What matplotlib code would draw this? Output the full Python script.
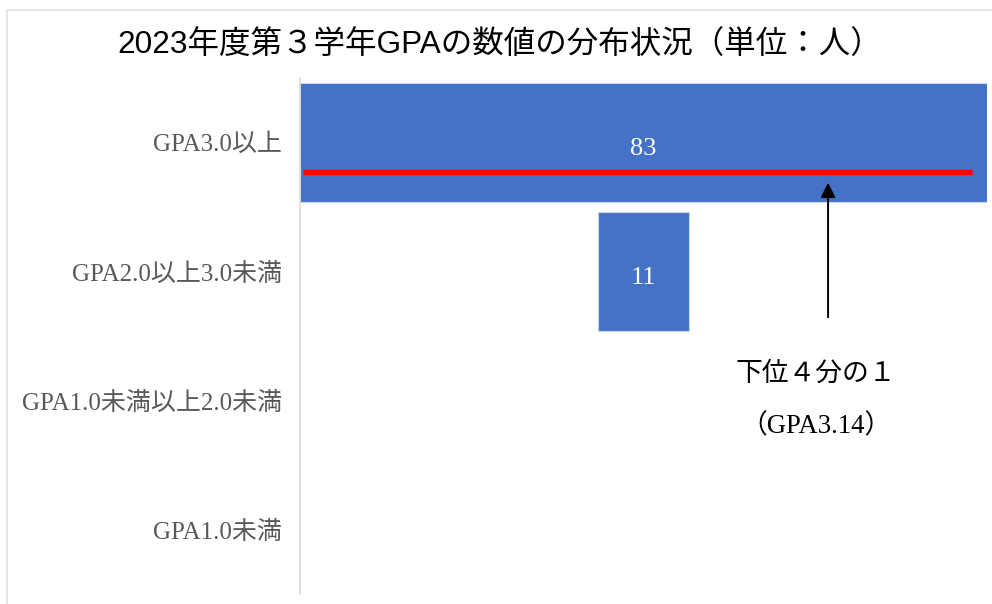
import matplotlib.pyplot as plt
from matplotlib.patches import Rectangle

# data
categories = ['GPA3.0以上', 'GPA2.0以上3.0未満', 'GPA1.0未満以上2.0未満', 'GPA1.0未満']
counts = [83, 11, 0, 0]
title = '2023年度第３学年GPAの数値の分布状況（単位：人）'
note_lines = ['下位４分の１', '（GPA3.14）']

bar_col = '#4472C4'
grid_col = '#d9d9d9'
label_col = '#595959'
serif_jp = ['Liberation Serif', 'Noto Sans CJK JP']
sans_jp = ['Liberation Sans', 'Noto Sans CJK JP']

fig = plt.figure(figsize=(9.92, 6.04), dpi=100)
ax = fig.add_axes([300/992, 1 - 594/604, 687/992, 516/604])

pos = list(range(len(categories)))
lefts = [-c / 2 for c in counts]
ax.barh(pos, counts, left=lefts, height=0.93, color=bar_col,
        edgecolor='#c9d6ee', linewidth=[0.8 if c else 0 for c in counts], zorder=2)

for p, c in zip(pos, counts):
    if c > 0:
        ax.text(0, p + 0.05, str(c), color='white', ha='center', va='center',
                fontsize=19, family=serif_jp, zorder=4)

ax.set_xlim(-41.5, 41.5)
ax.set_ylim(len(categories) - 0.5, -0.5)
ax.set_yticks(pos, categories)
ax.set_xticks([])
ax.tick_params(axis='y', length=0, pad=13, labelsize=18, labelcolor=label_col)
for lab in ax.get_yticklabels():
    lab.set_family(serif_jp)
for s in ['top', 'right', 'bottom']:
    ax.spines[s].set_visible(False)
ax.spines['left'].set_color(grid_col)
ax.spines['left'].set_linewidth(1.2)

# lower quartile marker
ax.plot([-41.1, 39.7], [0.229, 0.229], color='#ff0000', lw=3.8,
        solid_capstyle='butt', zorder=3)
ax.annotate('', xy=(22.3, 0.29), xytext=(22.3, 1.376),
            arrowprops=dict(arrowstyle='-|>', color='black', lw=1.4,
                            mutation_scale=22), zorder=5)
ax.text(20.8, 1.80, note_lines[0], ha='center', va='center',
        fontsize=19.3, family=serif_jp, color='black')
ax.text(20.8, 2.20, note_lines[1], ha='center', va='center',
        fontsize=19.3, family=serif_jp, color='black')

fig.text(500/992, 1 - 46/604, title, ha='center', va='center',
         fontsize=22.7, family=sans_jp, color='black')

fig.patches.append(Rectangle((7/992, -0.02), 1.0, 1 - 10/604 + 0.02,
                             transform=fig.transFigure, fill=False,
                             edgecolor='#e0e0e0', linewidth=1.2))

fig.savefig('out.png', dpi=100)
